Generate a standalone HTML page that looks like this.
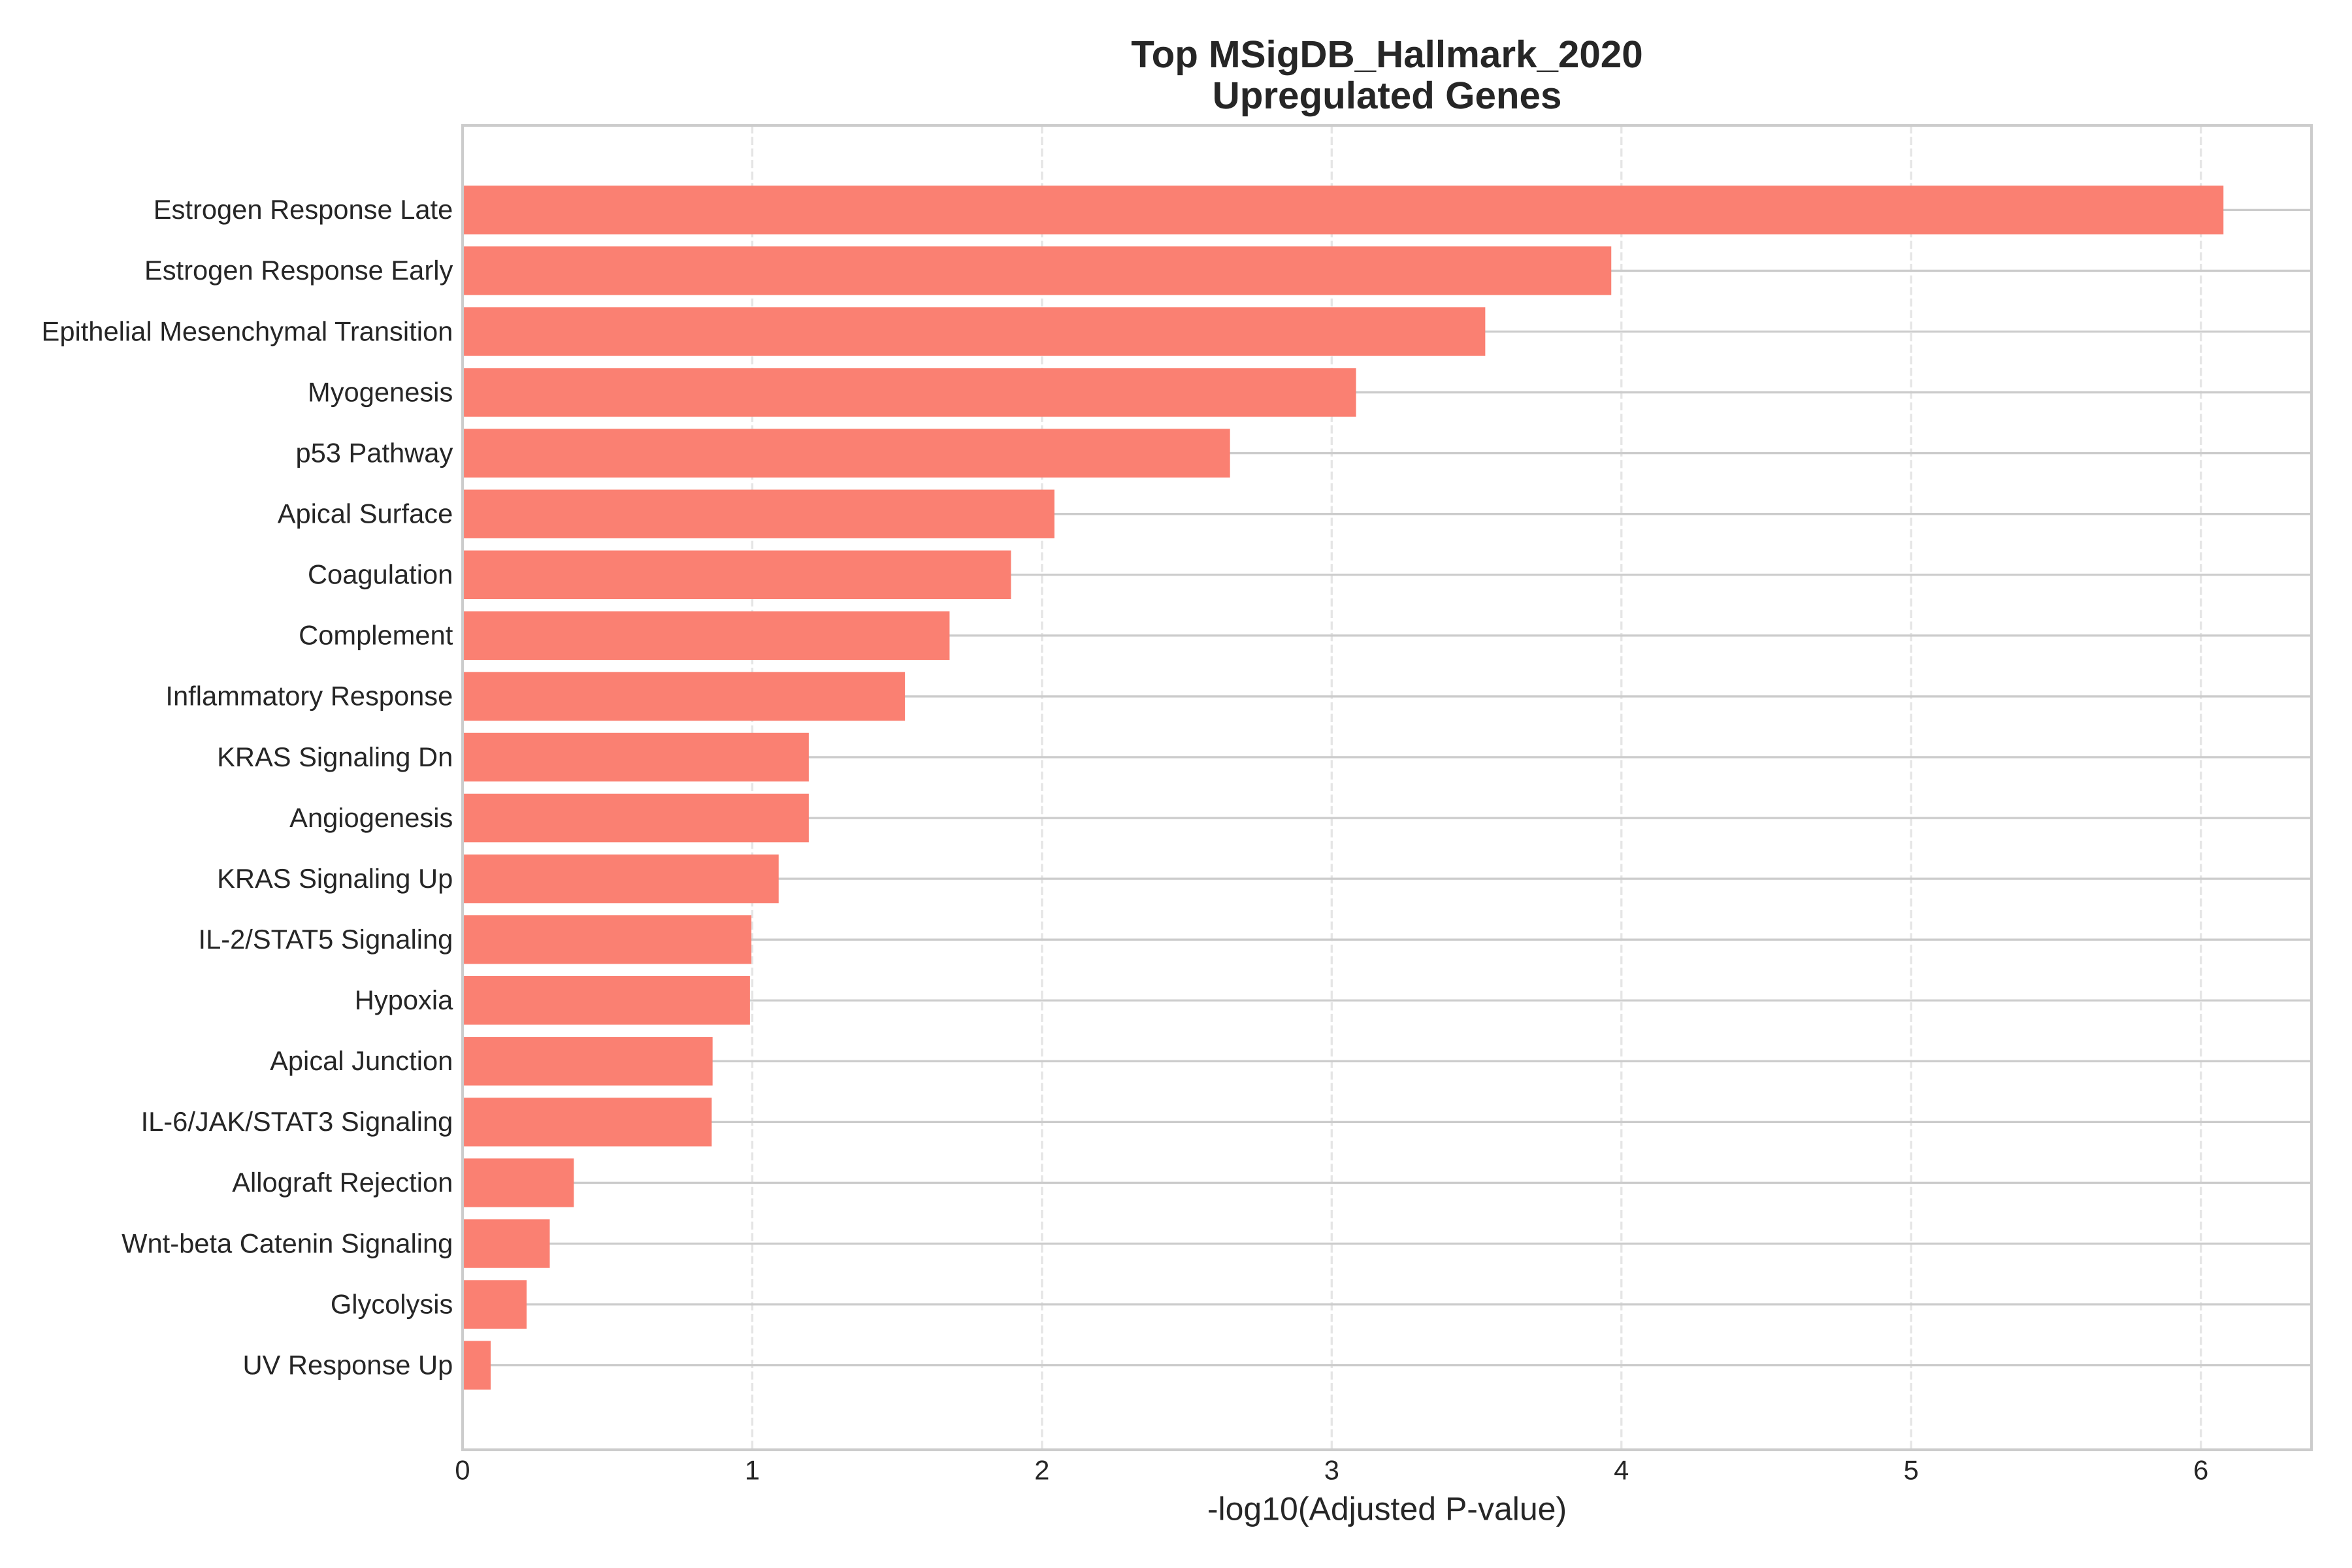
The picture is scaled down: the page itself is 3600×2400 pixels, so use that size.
<!DOCTYPE html>
<html lang="en">
<head>
<meta charset="utf-8">
<title>Top MSigDB_Hallmark_2020 Upregulated Genes</title>
<style>
html,body{margin:0;padding:0;background:#fff;}
svg{display:block;}
text{font-family:"Liberation Sans",Arial,sans-serif;fill:#262626;text-rendering:geometricPrecision;}
</style>
</head>
<body>
<svg id="chart" xmlns="http://www.w3.org/2000/svg" width="3600" height="2400" viewBox="0 0 3600 2400">
  <rect x="0" y="0" width="3600" height="2400" fill="#ffffff"/>
  <text x="2123" y="103" text-anchor="middle" font-size="58.33" font-weight="700">Top MSigDB_Hallmark_2020</text>
  <text x="2123" y="166" text-anchor="middle" font-size="58.33" font-weight="700">Upregulated Genes</text>
  <g id="x-grid"></g>
  <g id="y-grid"></g>
  <g id="bars"></g>
  <g>
    <rect x="708" y="192" width="2830" height="2027" fill="none" stroke="#cccccc" stroke-width="4.17"/>
  </g>
  <g id="y-labels"></g>
  <g id="x-labels"></g>
  <text x="2123" y="2326.5" text-anchor="middle" font-size="50">-log10(Adjusted P-value)</text>
</svg>
<script>
const categories = [
  "Estrogen Response Late","Estrogen Response Early","Epithelial Mesenchymal Transition",
  "Myogenesis","p53 Pathway","Apical Surface","Coagulation","Complement",
  "Inflammatory Response","KRAS Signaling Dn","Angiogenesis","KRAS Signaling Up",
  "IL-2/STAT5 Signaling","Hypoxia","Apical Junction","IL-6/JAK/STAT3 Signaling",
  "Allograft Rejection","Wnt-beta Catenin Signaling","Glycolysis","UV Response Up"
];
const values = [6.078,3.965,3.530,3.084,2.649,2.043,1.893,1.681,1.527,1.195,1.195,1.091,0.997,0.992,0.863,0.860,0.384,0.301,0.221,0.097];
const xTicks = [0,1,2,3,4,5,6];

const NS = "http://www.w3.org/2000/svg";
const plotLeft = 708, plotRight = 3538, plotTop = 192, plotBottom = 2219;
const xMax = Math.max(...values) * 1.05;
const n = categories.length;
const yRange = (n - 1 + 0.8) * 1.1;
const band = (plotBottom - plotTop) / yRange;
const yOffset = 0.4 + (n - 1 + 0.8) * 0.05;

function xScale(v) { return plotLeft + (v / xMax) * (plotRight - plotLeft); }
function yScale(i) { return plotTop + (i + yOffset) * band; }
function make(tag, attrs) {
  const el = document.createElementNS(NS, tag);
  for (const k in attrs) el.setAttribute(k, attrs[k]);
  return el;
}
function slug(s) { return s.toLowerCase().replace(/[^a-z0-9]+/g, "-"); }

const xGrid = document.getElementById("x-grid");
const yGrid = document.getElementById("y-grid");
const barsG = document.getElementById("bars");
const yLabels = document.getElementById("y-labels");
const xLabels = document.getElementById("x-labels");

xTicks.forEach(function (t) {
  const x = xScale(t);
  const line = make("line", {x1: x, x2: x, y1: plotTop, y2: plotBottom, stroke: "#cccccc", "stroke-opacity": 0.5, "stroke-width": 3.33, "stroke-dasharray": "12.33 5.33"});
  
  
  xGrid.appendChild(line);

  const label = make("text", {x: x, y: 2264.5, "text-anchor": "middle", "font-size": 41.67});
  
  
  label.textContent = String(t);
  xLabels.appendChild(label);
});

categories.forEach(function (name, i) {
  const cy = yScale(i);
  const line = make("line", {x1: plotLeft, x2: plotRight, y1: cy, y2: cy, stroke: "#cccccc", "stroke-width": 3.33});
  
  
  yGrid.appendChild(line);

  const bar = make("rect", {x: xScale(0), y: cy - 0.4 * band, width: xScale(values[i]) - xScale(0), height: 0.8 * band, fill: "#fa8072"});
  
  
  barsG.appendChild(bar);

  const label = make("text", {x: 693.3, y: cy + 13.8, "text-anchor": "end", "font-size": 41.67});
  
  
  label.textContent = name;
  yLabels.appendChild(label);
});
</script>
</body>
</html>
